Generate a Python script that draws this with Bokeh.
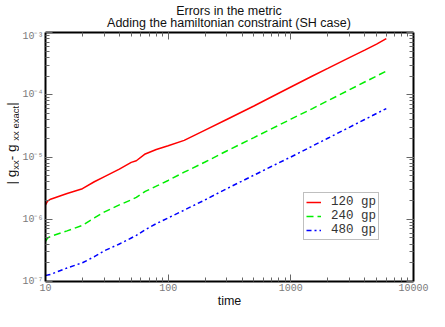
import math
from bokeh.plotting import figure
from bokeh.layouts import column, row
from bokeh.models import (LogTicker, LogAxis, Label, Legend, LegendItem, Range1d,
                          CustomJSTickFormatter)
from bokeh.embed import file_html
from bokeh.resources import INLINE

# ---------------- data ----------------
time = [10, 10.4, 11, 15, 20, 25, 30, 40, 50, 55, 65, 80, 100, 135, 200, 300,
        500, 700, 1000, 1500, 2000, 3000, 4000, 5000, 6000]
err_120 = [1.7e-6, 1.95e-6, 2.1e-6, 2.6e-6, 3.1e-6, 4.0e-6, 4.8e-6, 6.4e-6,
           8.2e-6, 8.7e-6, 1.12e-5, 1.32e-5, 1.52e-5, 1.85e-5, 2.7e-5, 4.0e-5,
           6.6e-5, 9.3e-5, 1.33e-4, 2.0e-4, 2.65e-4, 3.95e-4, 5.2e-4, 6.5e-4, 8.0e-4]
err_240 = [4.4e-7, 5.0e-7, 5.3e-7, 6.5e-7, 8.0e-7, 1.05e-6, 1.3e-6, 1.7e-6,
           2.05e-6, 2.25e-6, 2.8e-6, 3.4e-6, 4.2e-6, 5.7e-6, 8.3e-6, 1.25e-5,
           2.05e-5, 2.85e-5, 4.05e-5, 6.0e-5, 8.0e-5, 1.2e-4, 1.6e-4, 2.0e-4, 2.4e-4]
err_480 = [1.25e-7, 1.27e-7, 1.3e-7, 1.65e-7, 2.0e-7, 2.5e-7, 3.1e-7, 4.0e-7,
           5.0e-7, 5.5e-7, 6.8e-7, 8.5e-7, 1.05e-6, 1.4e-6, 2.05e-6, 3.1e-6,
           5.1e-6, 7.1e-6, 1.0e-5, 1.5e-5, 2.0e-5, 3.0e-5, 4.0e-5, 5.0e-5, 6.0e-5]
series_labels = ["120 gp", "240 gp", "480 gp"]

x_tick_exps = [1, 2, 3, 4]
x_tick_labels = ["10", "100", "1000", "10000"]
y_tick_exps = [-7, -6, -5, -4, -3]
y_tick_labels = ["10\u207b\u2077", "10\u207b\u2076", "10\u207b\u2075", "10\u207b\u2074", "10\u207b\u00b3"]

title_lines = ["Errors in the metric", "Adding the hamiltonian constraint (SH case)"]
x_label = "time"
# y label: | g_xx - g_xx exact |  (text, font size, is subscript)
ylabel_pieces = [("| g", 13.5, False), ("xx", 9.5, True), (" - g", 13.5, False),
                 ("xx exact", 9.5, True), (" |", 13.5, False)]

# ---------------- layout sizes ----------------
TOTAL_W, TOTAL_H = 429, 311
TITLE_H = 30
YLAB_W = 19
PW, PH = TOTAL_W - YLAB_W, TOTAL_H - TITLE_H
BL, BR, BT, BB = 25, 16, 2, 30
FRAME_CX = YLAB_W + BL + (PW - BL - BR) / 2.0
TXT_FONT = "Liberation Sans"
TXT_COLOR = "#111111"


def blank_fig(w, h):
    f = figure(width=w, height=h, x_range=Range1d(0, w), y_range=Range1d(0, h),
               x_axis_location=None, y_axis_location=None,
               output_backend="svg", toolbar_location=None,
               min_border_left=0, min_border_right=0, min_border_top=0,
               min_border_bottom=0)
    f.xgrid.visible = False
    f.ygrid.visible = False
    f.outline_line_color = None
    f.background_fill_color = "white"
    f.border_fill_color = "white"
    return f


# ---------------- title figure ----------------
tf = blank_fig(TOTAL_W, TITLE_H)
tf.add_layout(Label(x=FRAME_CX, y=TITLE_H - 10.5, x_units="screen", y_units="screen",
                    text=title_lines[0], text_font=TXT_FONT, text_font_size="12.5px",
                    text_align="center", text_baseline="alphabetic", text_color=TXT_COLOR))
tf.add_layout(Label(x=FRAME_CX, y=TITLE_H - 22.8, x_units="screen", y_units="screen",
                    text=title_lines[1], text_font=TXT_FONT, text_font_size="12.5px",
                    text_align="center", text_baseline="alphabetic", text_color=TXT_COLOR))

# ---------------- y-label figure ----------------
yf = blank_fig(YLAB_W, PH)
ARIAL = {"|": 0.26, " ": 0.278, "g": 0.556, "x": 0.5, "-": 0.333, "e": 0.556,
         "a": 0.556, "c": 0.5, "t": 0.278}
widths = [sum(ARIAL.get(ch, 0.5) for ch in t) * s for t, s, _ in ylabel_pieces]
ypos = 140.0 - sum(widths) / 2.0
for (txt, size, sub), wdt in zip(ylabel_pieces, widths):
    yf.add_layout(Label(x=15.2 if sub else 11.0, y=ypos,
                        x_units="screen", y_units="screen", text=txt,
                        text_font=TXT_FONT, text_font_size=f"{size}px",
                        angle=math.pi / 2, angle_units="rad",
                        text_align="left", text_baseline="middle",
                        text_color=TXT_COLOR))
    ypos += wdt

# ---------------- main figure ----------------
p = figure(width=PW, height=PH, x_axis_type="log", y_axis_type="log",
           x_range=Range1d(10, 10000), y_range=Range1d(1e-7, 1e-3),
           output_backend="svg", toolbar_location=None,
           min_border_left=BL, min_border_right=BR,
           min_border_top=BT, min_border_bottom=BB)
p.xgrid.visible = False
p.ygrid.visible = False
p.outline_line_color = None
p.background_fill_color = "white"
p.border_fill_color = "white"

xt = LogTicker(mantissas=[1], desired_num_ticks=4, num_minor_ticks=10)
yt = LogTicker(mantissas=[1], desired_num_ticks=5, num_minor_ticks=10)

fmt_code = """
const e = Math.round(Math.log10(tick));
const i = exps.indexOf(e);
return i >= 0 ? labels[i] : "";
"""
xfmt = CustomJSTickFormatter(args=dict(exps=x_tick_exps, labels=x_tick_labels), code=fmt_code)
yfmt = CustomJSTickFormatter(args=dict(exps=y_tick_exps, labels=y_tick_labels), code=fmt_code)
nofmt = CustomJSTickFormatter(code="return '';")

TICK_COLOR = "#666666"
LABEL_COLOR = "#7a7a7a"


def style_axis(ax):
    ax.axis_line_color = "black"
    ax.axis_line_width = 2
    ax.major_tick_in = 7
    ax.major_tick_out = 0
    ax.minor_tick_in = 4
    ax.minor_tick_out = 0
    ax.major_tick_line_color = TICK_COLOR
    ax.minor_tick_line_color = TICK_COLOR
    ax.major_label_text_font = "Liberation Mono"
    ax.major_label_text_font_size = "10px"
    ax.major_label_text_color = LABEL_COLOR
    ax.major_label_standoff = 2


p.xaxis[0].ticker = xt
p.xaxis[0].formatter = xfmt
p.yaxis[0].ticker = yt
p.yaxis[0].formatter = yfmt
style_axis(p.xaxis[0])
style_axis(p.yaxis[0])
p.yaxis[0].axis_label = None
p.xaxis[0].axis_label = x_label
p.xaxis[0].axis_label_text_font = TXT_FONT
p.xaxis[0].axis_label_text_font_size = "12.5px"
p.xaxis[0].axis_label_text_font_style = "normal"
p.xaxis[0].axis_label_text_color = TXT_COLOR
p.xaxis[0].axis_label_standoff = 0

top_ax = LogAxis(ticker=xt, formatter=nofmt, axis_label=None)
right_ax = LogAxis(ticker=yt, formatter=nofmt, axis_label=None)
style_axis(top_ax)
style_axis(right_ax)
top_ax.major_label_standoff = 0
right_ax.major_label_standoff = 0
p.add_layout(top_ax, "above")
p.add_layout(right_ax, "right")

r1 = p.line(time, err_120, line_color="#ff0000", line_width=1.5)
r2 = p.line(time, err_240, line_color="#00ee00", line_width=1.5, line_dash="7 4")
r3 = p.line(time, err_480, line_color="#0000ff", line_width=1.5, line_dash="5 3 2 3")

legend = Legend(items=[LegendItem(label=series_labels[0], renderers=[r1]),
                       LegendItem(label=series_labels[1], renderers=[r2]),
                       LegendItem(label=series_labels[2], renderers=[r3])],
                location=(258, 41), margin=0, padding=2, spacing=0,
                glyph_width=15, glyph_height=12, label_height=12,
                label_standoff=10,
                label_text_font="Liberation Mono", label_text_font_size="12.5px",
                label_text_color="#333333",
                border_line_color="#808080", border_line_width=1.5,
                background_fill_color="white", background_fill_alpha=1.0)
p.add_layout(legend)

layout = column(tf, row(yf, p, spacing=0), spacing=0)
open("out.html", "w").write(file_html(layout, INLINE))
